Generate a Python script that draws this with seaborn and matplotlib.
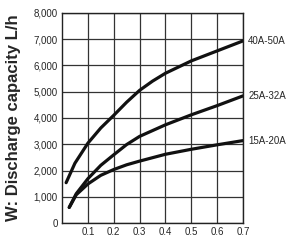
import pandas as pd
import seaborn as sns
import matplotlib.pyplot as plt

# readings (x: pressure, y: discharge L/h)
x_40 = [0.016, 0.05, 0.1, 0.15, 0.2, 0.25, 0.3, 0.35, 0.4, 0.5, 0.6, 0.7]
w_40 = [1540, 2280, 3040, 3620, 4100, 4600, 5050, 5400, 5700, 6170, 6550, 6930]
x_25 = [0.028, 0.055, 0.1, 0.15, 0.2, 0.25, 0.3, 0.4, 0.5, 0.6, 0.7]
w_25 = [600, 1120, 1690, 2200, 2600, 2990, 3300, 3740, 4120, 4470, 4840]
x_15 = [0.028, 0.055, 0.1, 0.15, 0.2, 0.25, 0.3, 0.4, 0.5, 0.6, 0.7]
w_15 = [600, 1080, 1490, 1820, 2040, 2220, 2360, 2620, 2810, 2980, 3140]
series = ['40A-50A', '25A-32A', '15A-20A']
x_ticks = [0.1, 0.2, 0.3, 0.4, 0.5, 0.6, 0.7]
y_ticks = [0, 1000, 2000, 3000, 4000, 5000, 6000, 7000, 8000]

df = pd.concat([
    pd.DataFrame({'x': x_40, 'w': w_40, 'size': series[0]}),
    pd.DataFrame({'x': x_25, 'w': w_25, 'size': series[1]}),
    pd.DataFrame({'x': x_15, 'w': w_15, 'size': series[2]}),
])

sns.set_style('white')
plt.rcParams['font.family'] = ['Liberation Sans', 'DejaVu Sans']

fig = plt.figure(figsize=(2.87, 2.40), dpi=100)
ax = fig.add_axes([0.216, 0.07, 0.631, 0.877])

sns.lineplot(data=df, x='x', y='w', units='size', estimator=None,
             color='#111111', lw=2.3, ax=ax, sort=False)

ax.set_xlim(0, 0.7)
ax.set_ylim(0, 8000)
ax.set_xticks(x_ticks)
ax.set_xticklabels([str(t) for t in x_ticks], fontsize=7)
ax.set_yticks(y_ticks)
ax.set_yticklabels([f'{t:,}' for t in y_ticks], fontsize=7)
ax.tick_params(length=0, pad=3)
ax.grid(True, color='#333333', lw=0.9)
for s in ax.spines.values():
    s.set_color('#222222')
    s.set_linewidth(1.0)
ax.set_xlabel('')
ax.set_ylabel('W: Discharge capacity L/h', fontsize=12, fontweight='bold', labelpad=9)

for name, xs, ws in [(series[0], x_40, w_40), (series[1], x_25, w_25), (series[2], x_15, w_15)]:
    ax.text(xs[-1] + 0.02, ws[-1], name, fontsize=7, va='center', ha='left',
            clip_on=False)

fig.savefig('out.png', dpi=100)
